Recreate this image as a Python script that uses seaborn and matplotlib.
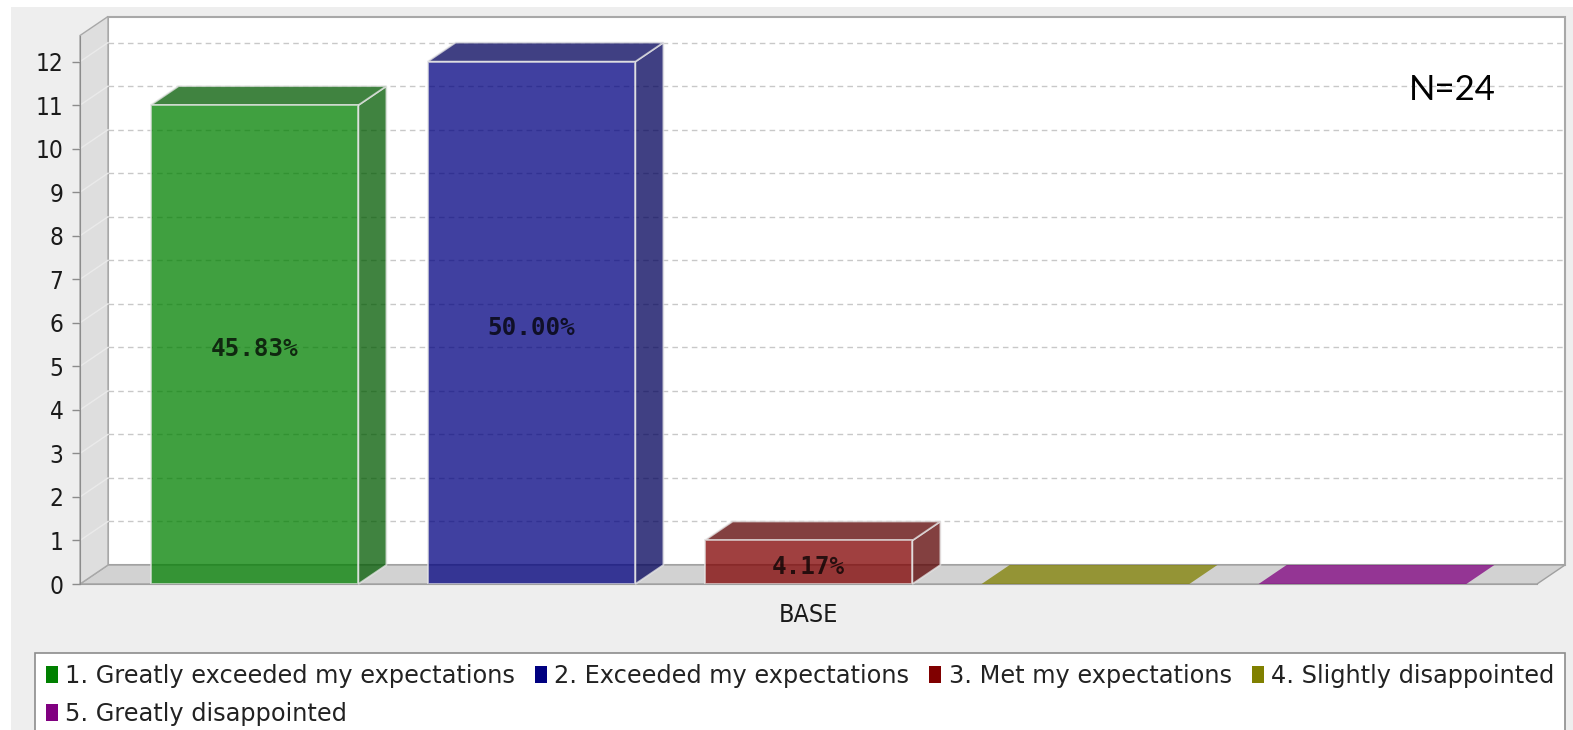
import matplotlib
matplotlib.use("Agg")
import matplotlib.pyplot as plt
from matplotlib.patches import Polygon, Rectangle, Patch
from matplotlib.font_manager import FontProperties, fontManager
import pandas as pd
import seaborn as sns

# ---- data ----
category = "BASE"
answers = [
    "1. Greatly exceeded my expectations",
    "2. Exceeded my expectations",
    "3. Met my expectations",
    "4. Slightly disappointed",
    "5. Greatly disappointed",
]
counts = [11, 12, 1, 0, 0]
colors = ["#008000", "#000080", "#800000", "#808000", "#800080"]
y_ticks = list(range(0, 13))
n_total = 24

# ---- fonts ----
names = {f.name for f in fontManager.ttflist}
if "DejaVu Sans Condensed" in names:
    cond = FontProperties(family="DejaVu Sans Condensed")
elif any(f.name == "DejaVu Sans" and f.stretch == "condensed" for f in fontManager.ttflist):
    cond = FontProperties(family="DejaVu Sans", stretch="condensed")
elif "Liberation Sans Narrow" in names:
    cond = FontProperties(family="Liberation Sans Narrow")
else:
    cond = FontProperties(family="DejaVu Sans")

W, H = 1573, 730
fig = plt.figure(figsize=(W / 100, H / 100), dpi=100, facecolor="white")
fig.patches.append(Rectangle((11 / W, 0), 1, (H - 7) / H, transform=fig.transFigure,
                             facecolor="#EEEEEE", edgecolor="none", zorder=-10))

# front plane of the plot area (pixels)
left_px, right_px, top_px, bot_px = 80, 1537, 35.5, 584
depth_x, depth_y = 28, 19
ax = fig.add_axes([left_px / W, (H - bot_px) / H, (right_px - left_px) / W, (bot_px - top_px) / H])
ax.patch.set_visible(False)

xmin, xmax = -0.526, 0.526
ymin, ymax = 0.0, 12.6

# ---- bars (front faces) ----
df = pd.DataFrame({"group": [category] * len(answers), "answer": answers, "count": counts})
sns.barplot(data=df, x="group", y="count", hue="answer", hue_order=answers,
            palette=colors, saturation=1, width=1.0, gap=0.25, alpha=0.75,
            legend=False, ax=ax, zorder=3)
bars = list(ax.patches)

ax.set_xlim(xmin, xmax)
ax.set_ylim(ymin, ymax)
dx = depth_x * (xmax - xmin) / (right_px - left_px)
dy = depth_y * (ymax - ymin) / (bot_px - top_px)

# ---- walls ----
back = Rectangle((xmin + dx, dy), xmax - xmin, ymax, facecolor="white",
                 edgecolor="#A8A8A8", lw=1.5, clip_on=False, zorder=0)
floor = Polygon([(xmin, 0), (xmax, 0), (xmax + dx, dy), (xmin + dx, dy)],
                closed=True, facecolor="#D2D2D2", edgecolor="#A0A0A0", lw=1.0,
                clip_on=False, zorder=0.5)
lwall = Polygon([(xmin, 0), (xmin + dx, dy), (xmin + dx, ymax + dy), (xmin, ymax)],
                closed=True, facecolor="#DEDEDE", edgecolor="#A8A8A8", lw=1.0,
                clip_on=False, zorder=0.5)
for p in (back, floor, lwall):
    ax.add_patch(p)

for v in y_ticks[1:]:
    ax.plot([xmin + dx, xmax + dx], [v + dy, v + dy], color="#C8C8C8", lw=1.0,
            ls=(0, (4, 3)), clip_on=False, zorder=1)
    ax.plot([xmin, xmin + dx], [v, v + dy], color="#EAEAEA", lw=1.0,
            clip_on=False, zorder=1)

# ---- 3D side and top faces, value labels ----
for patch, c, col in zip(bars, counts, colors):
    x0, w, h = patch.get_x(), patch.get_width(), patch.get_height()
    darker = tuple(0.7 * ch for ch in matplotlib.colors.to_rgb(col))
    if h > 0:
        patch.set_edgecolor("#E6E6E6")
        patch.set_linewidth(1.3)
        side = Polygon([(x0 + w, 0), (x0 + w + dx, dy), (x0 + w + dx, h + dy), (x0 + w, h)],
                       closed=True, facecolor=darker, alpha=0.75, edgecolor="#E6E6E6",
                       lw=1.3, clip_on=False, zorder=2.9)
        top = Polygon([(x0, h), (x0 + w, h), (x0 + w + dx, h + dy), (x0 + dx, h + dy)],
                      closed=True, facecolor=darker, alpha=0.75, edgecolor="#E6E6E6",
                      lw=1.3, clip_on=False, zorder=2.9)
        ax.add_patch(side)
        ax.add_patch(top)
        ax.annotate(f"{c / n_total * 100:.2f}%", (x0 + w / 2, h / 2),
                    xytext=(0, -3.5), textcoords="offset points",
                    ha="center", va="center",
                    family="DejaVu Sans Mono", weight="bold", fontsize=17.5,
                    color="black", alpha=0.75, zorder=5)
    else:
        patch.set_edgecolor("none")
        top = Polygon([(x0, 0), (x0 + w, 0), (x0 + w + dx, dy), (x0 + dx, dy)],
                      closed=True, facecolor=col, alpha=0.75, edgecolor="none",
                      clip_on=False, zorder=2.9)
        ax.add_patch(top)

# ---- axes styling ----
for s in ("top", "right"):
    ax.spines[s].set_visible(False)
ax.spines["left"].set_color("#8C8C8C")
ax.spines["bottom"].set_color("#A0A0A0")
ax.spines["left"].set_zorder(6)
ax.set_yticks(y_ticks)
ax.set_yticklabels([str(v) for v in y_ticks])
ax.tick_params(axis="y", direction="out", length=6, width=1, color="#8C8C8C", pad=6)
ax.tick_params(axis="x", length=0, pad=14)
for lbl in ax.get_yticklabels():
    lbl.set_fontproperties(cond)
    lbl.set_fontsize(17.5)
    lbl.set_color("#1A1A1A")
for lbl in ax.get_xticklabels():
    lbl.set_fontproperties(cond)
    lbl.set_fontsize(18)
    lbl.set_color("#1A1A1A")
ax.set_xlabel("")
ax.set_ylabel("")

fig.text(1452 / W, (H - 90) / H, f"N={n_total}", ha="center", va="center",
         family="Lato", fontsize=25, color="black")

# ---- legend (row-major order for 4 columns) ----
handles = [Patch(facecolor=c, edgecolor="none") for c in colors]
order = [0, 4, 1, 2, 3]
leg = fig.legend([handles[i] for i in order], [answers[i] for i in order],
                 ncol=4, loc="upper left",
                 bbox_to_anchor=(35 / W, 0, (1565 - 35) / W, (H - 653) / H),
                 mode="expand", prop={"family": "DejaVu Sans", "size": 17.3},
                 frameon=True, fancybox=False,
                 framealpha=1, edgecolor="#8C8C8C", borderpad=0.45,
                 handlelength=0.5, handleheight=0.7, handletextpad=0.3,
                 labelspacing=0.6, borderaxespad=0, columnspacing=0.5)
leg.get_frame().set_linewidth(1.2)
for t in leg.get_texts():
    t.set_color("#222222")

fig.savefig("out.png", dpi=100, facecolor="white")
